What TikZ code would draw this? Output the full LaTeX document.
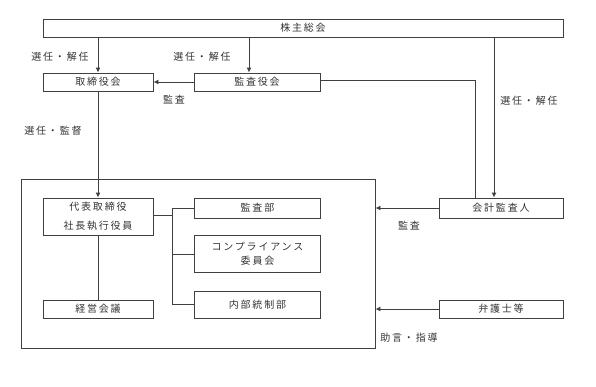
\documentclass[tikz,border=0pt]{standalone}
\usepackage{fontspec}
\setmainfont{Noto Sans CJK JP}[LetterSpace=18]
\usetikzlibrary{arrows.meta}
\begin{document}
\begin{tikzpicture}[x=1pt,y=-1pt,
  every node/.style={font=\fontsize{10}{12}\selectfont, text=black!80},
  box/.style={draw=black!75, line width=0.9pt, inner sep=0pt, align=center},
  line/.style={draw=black!75, line width=0.9pt},
  arr/.style={line, -{Latex[length=5pt,width=5pt]}},
  lbl/.style={inner sep=0pt}]
\useasboundingbox (0,0) rectangle (596,386);
% boxes
\node[box, minimum width=520, minimum height=18] (gm) at (303,28) {株主総会};
\node[box, minimum width=110, minimum height=18] (bod) at (98,82) {取締役会};
\node[box, minimum width=126, minimum height=18] (kab) at (257,82) {監査役会};
\node[box, minimum width=354, minimum height=169] (outer) at (198,263.5) {};
\node[box, minimum width=110, minimum height=37, font=\fontsize{10}{19}\selectfont] (ceo) at (98,216.5) {代表取締役\\社長執行役員};
\node[box, minimum width=110, minimum height=18] (keiei) at (98,309) {経営会議};
\node[box, minimum width=126, minimum height=20] (audit) at (257.5,208) {監査部};
\node[box, minimum width=126, minimum height=37, font=\fontsize{10}{14}\selectfont] (comp) at (257.5,254) {コンプライアンス\\委員会};
\node[box, minimum width=126, minimum height=27] (naibu) at (257.5,304.5) {内部統制部};
\node[box, minimum width=124, minimum height=20] (kaikei) at (501,208) {会計監査人};
\node[box, minimum width=124, minimum height=18] (bengo) at (501,309) {弁護士等};
% labels
\node[lbl] (l1) at (60,57) {選任・解任};
\node[lbl] (l2) at (202,57) {選任・解任};
\node[lbl] (l3) at (174,100) {監査};
\node[lbl] (l4) at (53,131) {選任・監督};
\node[lbl] (l5) at (529,101) {選任・解任};
\node[lbl] (l6) at (409,226) {監査};
\node[lbl] (l7) at (409,338) {助言・指導};
% connectors
\draw[arr] (bod.north |- gm.south) -- (bod.north);
\draw[arr] ([xshift=-8pt]kab.north |- gm.south) -- ([xshift=-8pt]kab.north);
\draw[arr] (kab.west) -- (bod.east);
\draw[line] ([yshift=2pt]kab.east) -| ([xshift=-26pt]kaikei.north);
\draw[arr] ([xshift=-7pt]kaikei.north |- gm.south) -- ([xshift=-7pt]kaikei.north);
\draw[arr] (bod.south) -- (ceo.north);
\draw[line] (ceo.south) -- (keiei.north);
\draw[line] ([yshift=1.5pt]ceo.east) -- ++(19,0);
\draw[line] (audit.west) -- ++(-22,0) |- (naibu.west);
\draw[line] (comp.west) -- ++(-22,0);
\draw[arr] (kaikei.west) -- (kaikei.west -| outer.east);
\draw[arr] (bengo.west) -- (bengo.west -| outer.east);
\end{tikzpicture}
\end{document}
